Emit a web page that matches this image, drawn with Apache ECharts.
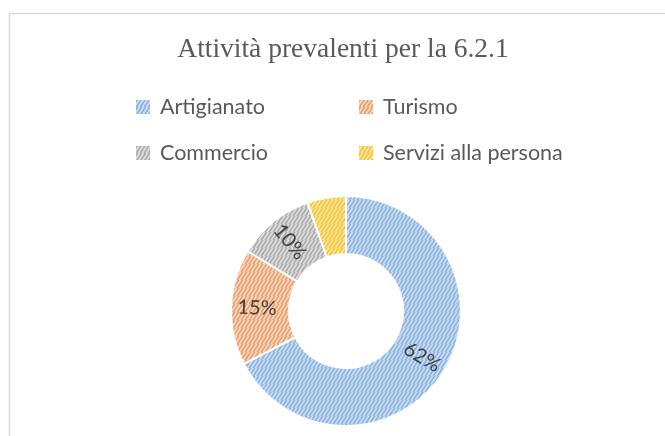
<!DOCTYPE html>
<html>
<head>
<meta charset="utf-8">
<script src="https://cdn.jsdelivr.net/npm/echarts@6/dist/echarts.min.js"></script>
<style>
  html, body { margin: 0; padding: 0; background: #fff; }
  #chart { width: 665px; height: 436px; }
</style>
</head>
<body>
<div id="chart"></div>
<script>
const title = 'Attività prevalenti per la 6.2.1'
const categories = ['Artigianato', 'Turismo', 'Commercio', 'Servizi alla persona']
const values = [62, 15, 10, 5]
const showLabel = [true, true, true, false]

// hatch colours: [background, stripe]
const hatchColors = [
  ['#cfe0f4', '#88b0e0'],
  ['#f9dcc6', '#ee9a66'],
  ['#e0e0e0', '#a8a8a8'],
  ['#fde9a6', '#f5c331'],
]

function hatch(bg, fg) {
  const c = document.createElement('canvas')
  c.width = 8
  c.height = 8
  const ctx = c.getContext('2d')
  ctx.fillStyle = bg
  ctx.fillRect(0, 0, 8, 8)
  ctx.strokeStyle = fg
  ctx.lineWidth = 1.6
  for (let k = -8; k <= 16; k += 4) {
    ctx.beginPath()
    ctx.moveTo(k - 8, 16)
    ctx.lineTo(k + 8, 0 - 8)
    ctx.stroke()
  }
  return { image: c, repeat: 'repeat' }
}

const patterns = hatchColors.map(h => hatch(h[0], h[1]))

const legendBase = {
  orient: 'vertical',
  top: 95,
  padding: 0,
  itemWidth: 16,
  itemHeight: 16,
  itemGap: 22,
  icon: 'rect',
  textStyle: {
    fontFamily: 'Lato',
    fontSize: 21.5,
    color: '#595959',
    lineHeight: 24,
    padding: [0, 0, 0, 4],
  },
}

const chart = echarts.init(document.getElementById('chart'))
chart.setOption({
  backgroundColor: '#fff',
  graphic: [{
    type: 'rect',
    shape: { x: 9.5, y: 13.5, width: 700, height: 500 },
    style: { fill: 'none', stroke: '#d9d9d9', lineWidth: 1.5 },
    silent: true,
  }],
  title: {
    text: title,
    left: 338,
    textAlign: 'center',
    top: 31,
    textStyle: {
      fontFamily: 'Liberation Serif',
      fontWeight: 'normal',
      fontSize: 27.5,
      color: '#595959',
    },
  },
  legend: [
    Object.assign({}, legendBase, { data: [categories[0], categories[2]], left: 134 }),
    Object.assign({}, legendBase, { data: [categories[1], categories[3]], left: 357 }),
  ],
  series: [{
    type: 'pie',
    center: [346, 311],
    radius: [57, 115],
    startAngle: 90,
    clockwise: true,
    avoidLabelOverlap: false,
    itemStyle: { borderColor: '#fff', borderWidth: 2 },
    label: {
      show: true,
      position: 'inside',
      rotate: 'radial',
      formatter: '{c}%',
      fontFamily: 'Lato',
      fontSize: 20,
      color: '#404040',
    },
    labelLine: { show: false },
    emphasis: { disabled: true },
    data: categories.map((name, i) => ({
      name,
      value: values[i],
      itemStyle: { color: patterns[i] },
      label: { show: showLabel[i] },
    })),
  }],
})
</script>
</body>
</html>
